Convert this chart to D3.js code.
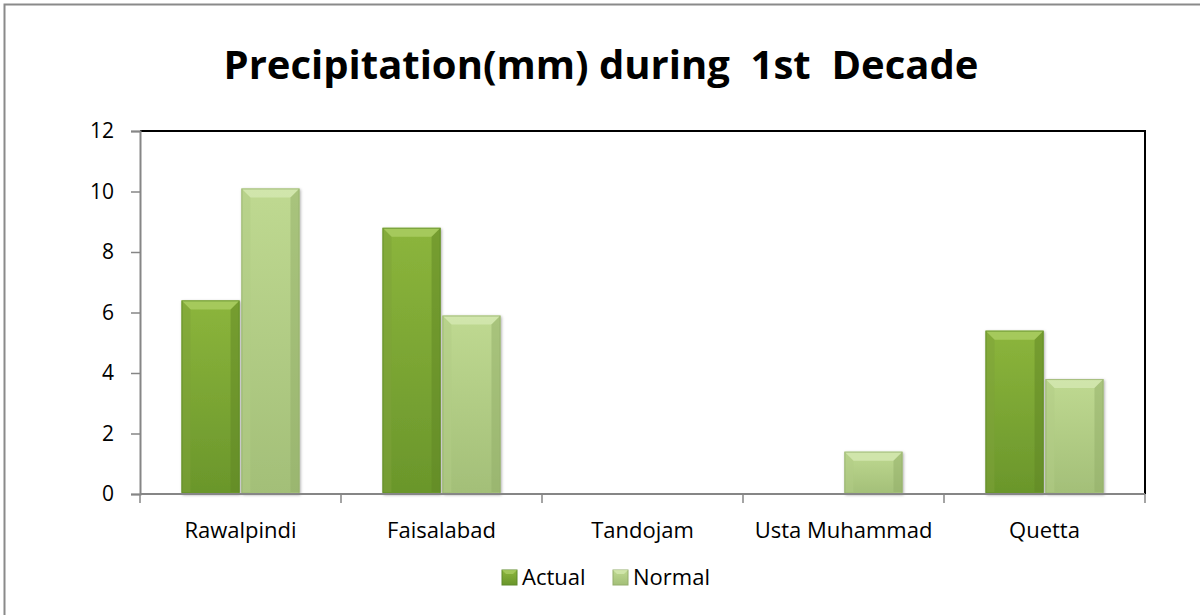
<!DOCTYPE html>
<html><head><meta charset="utf-8">
<script src="https://cdn.jsdelivr.net/npm/d3@7"></script>
<style>body{margin:0;background:#fff}svg{display:block}</style>
</head><body>
<svg id="c" width="1200" height="615"></svg>
<script>
const categories = ["Rawalpindi", "Faisalabad", "Tandojam", "Usta Muhammad", "Quetta"];
const seriesNames = ["Actual", "Normal"];
const actualValues = [6.4, 8.8, 0, 0, 5.4];
const normalValues = [10.1, 5.9, 0, 1.4, 3.8];
const yTicks = [0, 2, 4, 6, 8, 10, 12];
const titleText = "Precipitation(mm) during  1st  Decade";

const svg = d3.select("#c");
const m = {left: 140, right: 1145, top: 131, bottom: 494};
const FONT = "Open Sans, sans-serif";

// outer chart border (right/bottom fall outside the image)
svg.append("rect").attr("x", 4.5).attr("y", 4.5).attr("width", 1210).attr("height", 630)
  .attr("fill", "none").attr("stroke", "#8a8a8a").attr("stroke-width", 2);

const defs = svg.append("defs");
function grad(id, stops) {
  const g = defs.append("linearGradient").attr("id", id).attr("x1", 0).attr("y1", 0).attr("x2", 0).attr("y2", 1);
  stops.forEach(s => g.append("stop").attr("offset", s[0]).attr("stop-color", s[1]));
}
grad("gA", [[0, "#8cb53c"], [1, "#6a962b"]]);
grad("gN", [[0, "#bfd991"], [1, "#a3bf78"]]);
const f = defs.append("filter").attr("id", "sh").attr("x", "-20%").attr("y", "-5%").attr("width", "140%").attr("height", "115%");
f.append("feDropShadow").attr("dx", 1).attr("dy", 1).attr("stdDeviation", 1.5).attr("flood-color", "#000").attr("flood-opacity", 0.35);

const x0 = d3.scaleBand().domain(categories).range([m.left, m.right]).paddingInner(0);
const x1 = d3.scaleBand().domain(seriesNames).range([x0.bandwidth()/2 - 59, x0.bandwidth()/2 + 59]).paddingInner(0.03);
const y = d3.scaleLinear().domain([0, 12]).range([m.bottom, m.top]);

// title
svg.append("text").attr("x", 601).attr("y", 79).attr("text-anchor", "middle")
  .attr("font-family", FONT).attr("font-weight", "bold").attr("font-size", 40)
  .attr("fill", "#000").style("white-space", "pre").text(titleText);

// plot frame top/right
svg.append("path").attr("d", `M${m.left},${m.top}H${m.right}V${m.bottom}`)
  .attr("fill", "none").attr("stroke", "#000").attr("stroke-width", 2);

// bars
const data = categories.map((c, i) => ({c, vals: [{s: "Actual", v: actualValues[i]}, {s: "Normal", v: normalValues[i]}]}));
const colors = {Actual: {fill: "url(#gA)", top: "#a9cc62", side: "#7ea23a", bot: "#5f8524", edge: "#5f8a2a"},
                Normal: {fill: "url(#gN)", top: "#d4e8b0", side: "#b1cb86", bot: "#92ae68", edge: "#94ae6c"}};
const g = svg.append("g");
data.forEach(d => {
  d.vals.forEach(e => {
    if (e.v <= 0) return;
    const bx = x0(d.c) + x1(e.s), bw = x1.bandwidth();
    const by = y(e.v), bh = y(0) - y(e.v);
    const col = colors[e.s];
    const bg = g.append("g");
    bg.append("rect").attr("x", bx).attr("y", by).attr("width", bw).attr("height", bh)
      .attr("fill", col.fill).attr("filter", "url(#sh)");
    const b = Math.min(9, bh / 2);
    bg.append("path").attr("d", `M${bx},${by}H${bx+bw}L${bx+bw-b},${by+b}H${bx+b}Z`).attr("fill", col.top).attr("opacity", 0.85);
    bg.append("path").attr("d", `M${bx},${by}L${bx+b},${by+b}V${by+bh-2}H${bx}Z`).attr("fill", col.side).attr("opacity", 0.5);
    bg.append("path").attr("d", `M${bx+bw},${by}L${bx+bw-b},${by+b}V${by+bh-2}H${bx+bw}Z`).attr("fill", col.bot).attr("opacity", 0.5);
    bg.append("rect").attr("x", bx + 0.5).attr("y", by + 0.5).attr("width", bw - 1).attr("height", bh - 1)
      .attr("fill", "none").attr("stroke", col.edge).attr("stroke-width", 1).attr("opacity", 0.7);
  });
});

// y axis
const yAxis = d3.axisLeft(y).tickValues(yTicks).tickSize(9).tickPadding(17).tickFormat(d3.format("d"));
const ya = svg.append("g").attr("transform", `translate(${m.left},0)`).call(yAxis);
ya.select(".domain").attr("stroke", "#868686").attr("stroke-width", 2);
ya.selectAll(".tick line").attr("stroke", "#868686").attr("stroke-width", 1.5);
ya.selectAll(".tick text").attr("font-family", FONT).attr("font-size", 21).attr("fill", "#000");

// x axis
const xa = svg.append("g").attr("transform", `translate(0,${m.bottom})`);
xa.append("line").attr("x1", m.left).attr("x2", m.right).attr("stroke", "#868686").attr("stroke-width", 2);
const bounds = categories.map(c => x0(c)).concat([m.right]);
xa.selectAll("line.tk").data(bounds).join("line").attr("class", "tk")
  .attr("x1", d => d).attr("x2", d => d).attr("y1", 0).attr("y2", 9).attr("stroke", "#868686").attr("stroke-width", 1.5);
xa.selectAll("text").data(categories).join("text")
  .attr("x", d => x0(d) + x0.bandwidth() / 2).attr("y", 44).attr("text-anchor", "middle")
  .attr("font-family", FONT).attr("font-size", 22).attr("fill", "#000").text(d => d);

// legend
const legX = [502, 613];
const lg = svg.append("g");
seriesNames.forEach((s, i) => {
  lg.append("rect").attr("x", legX[i]).attr("y", 570).attr("width", 15).attr("height", 15)
    .attr("fill", colors[s].fill).attr("stroke", colors[s].edge).attr("stroke-width", 1);
  lg.append("path").attr("d", `M${legX[i]},570h15l-4,4h-7z`).attr("fill", colors[s].top).attr("opacity", 0.8);
  lg.append("text").attr("x", legX[i] + 20).attr("y", 585).attr("font-family", FONT)
    .attr("font-size", 22).attr("fill", "#000").text(s);
});
</script>
</body></html>
